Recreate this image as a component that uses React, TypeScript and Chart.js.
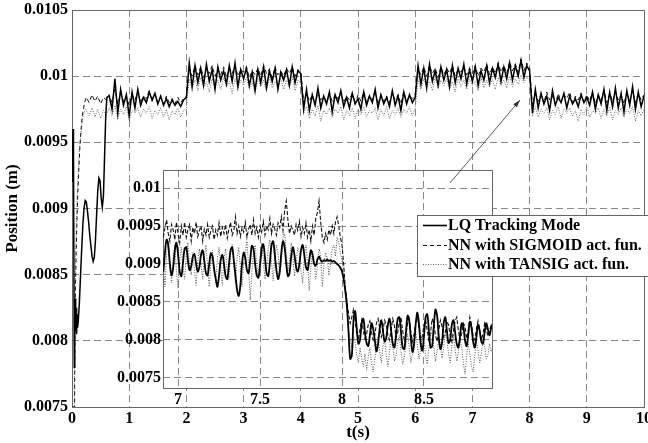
import React, { useEffect, useRef } from "react";
import { Chart, registerables } from "chart.js";
Chart.register(...registerables);

const FONT = '"Liberation Serif", "Times New Roman", serif';

// ---- axes / labels ----
const mainXTicks = [0, 1, 2, 3, 4, 5, 6, 7, 8, 9, 10];
const mainYTicks = [0.0075, 0.008, 0.0085, 0.009, 0.0095, 0.01, 0.0105];
const insetXTicks = [7, 7.5, 8, 8.5];
const insetYTicks = [0.0075, 0.008, 0.0085, 0.009, 0.0095, 0.01];
const seriesNames = ["LQ Tracking Mode", "NN with SIGMOID act. fun.", "NN with TANSIG act. fun."];
const xTitle = "t(s)";
const yTitle = "Position (m)";

// ---- main plot: start-up transients (time, value) ----
const lqT0 = [0, 0.018, 0.026, 0.04, 0.048, 0.056, 0.064, 0.072, 0.08, 0.088, 0.098, 0.11, 0.13, 0.15, 0.17, 0.19, 0.21, 0.23, 0.25, 0.27, 0.29, 0.31, 0.33, 0.35, 0.37, 0.39, 0.41, 0.43, 0.45, 0.47, 0.49, 0.51, 0.53, 0.55, 0.57, 0.59, 0.61];
const lqY0 = [0.0092, 0.0096, 0.0094, 0.0078, 0.0083, 0.00832, 0.00808, 0.00825, 0.00805, 0.0082, 0.0081, 0.00815, 0.0083, 0.0085, 0.0087, 0.00888, 0.009, 0.00906, 0.00905, 0.00898, 0.0089, 0.0088, 0.00872, 0.00864, 0.0086, 0.00863, 0.00876, 0.00895, 0.00913, 0.00923, 0.00921, 0.00908, 0.00901, 0.0091, 0.0094, 0.0097, 0.00984];
const sigT0 = [0, 0.045, 0.05, 0.06, 0.08, 0.1, 0.12, 0.14, 0.16, 0.18, 0.2, 0.22, 0.25, 0.3, 0.35, 0.4, 0.45, 0.5, 0.55, 0.6];
const sigY0 = [0.0075, 0.0075, 0.008, 0.0084, 0.0088, 0.0091, 0.0093, 0.00948, 0.0096, 0.0097, 0.00975, 0.0098, 0.00984, 0.0098, 0.00986, 0.00981, 0.00985, 0.00979, 0.00984, 0.00982];
const tanT0 = [0, 0.04, 0.045, 0.055, 0.07, 0.09, 0.11, 0.13, 0.15, 0.17, 0.19, 0.21, 0.24, 0.3, 0.35, 0.4, 0.45, 0.5, 0.55, 0.6];
const tanY0 = [0.0075, 0.0075, 0.008, 0.0084, 0.0088, 0.0091, 0.0093, 0.00945, 0.00955, 0.00963, 0.00968, 0.00972, 0.00975, 0.0097, 0.00976, 0.00969, 0.00975, 0.00968, 0.00974, 0.00971];

// ---- main plot: steady part, sampled from 0.65 s every 0.05 s ----
const steadyStart = 0.65;
const steadyStep = 0.05;
const lqSteady = [
  0.00985, 0.00975, 0.00998, 0.00972, 0.0099, 0.00978, 0.00986, 0.0097, 0.00988, 0.00976,
  0.0099, 0.00978, 0.00984, 0.0098, 0.00988, 0.00982, 0.00987, 0.00979, 0.00985, 0.00978,
  0.00983, 0.00977, 0.00982, 0.00978, 0.00981, 0.00977, 0.00982,
  0.00984,
  0.0101, 0.00992, 0.01008, 0.00995, 0.01006, 0.00993, 0.01009, 0.00996, 0.01005, 0.0099,
  0.01007, 0.00997, 0.01004, 0.00994, 0.01008, 0.00996, 0.0101, 0.00992, 0.01005, 0.00998,
  0.01006, 0.00993, 0.01003, 0.00989, 0.01005, 0.00995, 0.01007, 0.00991, 0.01004, 0.00996,
  0.01006, 0.0099, 0.01003, 0.00997, 0.01005, 0.00993, 0.01007, 0.00995, 0.01004,
  0.01002,
  0.00975, 0.0099, 0.00974, 0.00986, 0.00978, 0.00991, 0.00976, 0.00985, 0.00979, 0.00988,
  0.00973, 0.00986, 0.0098, 0.00989, 0.00977, 0.00984, 0.00976, 0.00987, 0.00979, 0.00983,
  0.00975, 0.00988, 0.00978, 0.00985, 0.0098, 0.0099, 0.00976, 0.00986, 0.00979, 0.00984,
  0.00977, 0.00989, 0.00978, 0.00985, 0.00974, 0.00988, 0.00979, 0.00986, 0.0098,
  0.00984,
  0.01008, 0.00994, 0.01006, 0.00991, 0.01009, 0.00996, 0.01004, 0.00993, 0.01007, 0.00997,
  0.01005, 0.00992, 0.01008, 0.00995, 0.01006, 0.00998, 0.01009, 0.00994, 0.01005, 0.00996,
  0.01007, 0.00993, 0.01004, 0.00997, 0.01008, 0.00995, 0.01006, 0.00999, 0.01009, 0.00996,
  0.01007, 0.00998, 0.0101, 0.00997, 0.01008, 0.01, 0.01012, 0.00999, 0.01008,
  0.01004,
  0.00972, 0.0099, 0.00976, 0.00987, 0.00979, 0.00985, 0.00974, 0.00989, 0.00978, 0.00984,
  0.0098, 0.00987, 0.00976, 0.00985, 0.00979, 0.00983, 0.00977, 0.00986, 0.0098, 0.00984,
  0.00978, 0.00988, 0.00975, 0.00986, 0.00979, 0.0099, 0.00974, 0.00988, 0.00977, 0.00991,
  0.00976, 0.00987, 0.00973, 0.00989, 0.00978, 0.00992, 0.00975, 0.00988, 0.00977, 0.00985,
];
const sigSteady = [
  0.00986, 0.0098, 0.0099, 0.00979, 0.00987, 0.00981, 0.00985, 0.00978, 0.00986, 0.00982,
  0.00988, 0.0098, 0.00985, 0.00983, 0.00989, 0.00981, 0.00986, 0.0098, 0.00984, 0.00979,
  0.00985, 0.0098, 0.00983, 0.00979, 0.00984, 0.0098, 0.00983,
  0.00985,
  0.01006, 0.01, 0.01008, 0.01001, 0.01007, 0.00999, 0.01006, 0.01002, 0.01008, 0.01,
  0.01005, 0.01001, 0.01007, 0.00999, 0.01006, 0.01002, 0.01008, 0.01, 0.01005, 0.01003,
  0.01007, 0.00999, 0.01004, 0.01001, 0.01006, 0.01, 0.01008, 0.01002, 0.01005, 0.00999,
  0.01007, 0.01001, 0.01004, 0.01, 0.01006, 0.01002, 0.01007, 0.01, 0.01005,
  0.01003,
  0.0098, 0.00987, 0.00981, 0.00986, 0.00979, 0.00988, 0.00982, 0.00985, 0.0098, 0.00987,
  0.00981, 0.00986, 0.00983, 0.00988, 0.0098, 0.00985, 0.00982, 0.00987, 0.00979, 0.00986,
  0.00981, 0.00988, 0.0098, 0.00985, 0.00982, 0.00987, 0.00979, 0.00986, 0.00981, 0.00985,
  0.0098, 0.00987, 0.00982, 0.00986, 0.00979, 0.00988, 0.00981, 0.00985, 0.00983,
  0.00986,
  0.01005, 0.01001, 0.01007, 0.01, 0.01008, 0.01002, 0.01006, 0.00999, 0.01007, 0.01001,
  0.01006, 0.01002, 0.01008, 0.01, 0.01005, 0.01003, 0.01007, 0.01001, 0.01006, 0.01002,
  0.01008, 0.01, 0.01006, 0.01003, 0.01009, 0.01001, 0.01007, 0.01002, 0.0101, 0.01003,
  0.01008, 0.01002, 0.01011, 0.01004, 0.01009, 0.01003, 0.01013, 0.01004, 0.0101,
  0.01006,
  0.00978, 0.00987, 0.00981, 0.00986, 0.0098, 0.00988, 0.00982, 0.00985, 0.00979, 0.00987,
  0.00981, 0.00986, 0.00983, 0.00988, 0.0098, 0.00985, 0.00982, 0.00987, 0.0098, 0.00986,
  0.00981, 0.00988, 0.00979, 0.00986, 0.00982, 0.00989, 0.0098, 0.00987, 0.00981, 0.00988,
  0.00982, 0.00986, 0.00979, 0.00988, 0.00981, 0.00989, 0.0098, 0.00987, 0.00982, 0.00986,
];
const tanSteady = [
  0.00976, 0.0097, 0.00978, 0.00968, 0.00975, 0.00971, 0.00977, 0.00967, 0.00974, 0.00972,
  0.00976, 0.00969, 0.00975, 0.00972, 0.00977, 0.00968, 0.00974, 0.00971, 0.00976, 0.00969,
  0.00975, 0.00967, 0.00974, 0.00971, 0.00976, 0.00969, 0.00974,
  0.00976,
  0.00998, 0.00991, 0.00997, 0.00989, 0.00999, 0.00992, 0.00996, 0.00988, 0.00998, 0.00993,
  0.00997, 0.0099, 0.00999, 0.00992, 0.00996, 0.00987, 0.00998, 0.00991, 0.00997, 0.00993,
  0.00999, 0.0099, 0.00996, 0.00988, 0.00998, 0.00992, 0.00997, 0.00989, 0.00999, 0.00991,
  0.00996, 0.00993, 0.00998, 0.0099, 0.00997, 0.00992, 0.00999, 0.00989, 0.00997,
  0.00995,
  0.00972, 0.00977, 0.00968, 0.00975, 0.0097, 0.00978, 0.00966, 0.00974, 0.00971, 0.00976,
  0.00969, 0.00975, 0.00972, 0.00977, 0.00967, 0.00974, 0.0097, 0.00976, 0.00968, 0.00975,
  0.00971, 0.00977, 0.00969, 0.00974, 0.00972, 0.00976, 0.00967, 0.00975, 0.0097, 0.00977,
  0.00968, 0.00974, 0.00971, 0.00976, 0.00969, 0.00975, 0.00972, 0.00977, 0.0097,
  0.00976,
  0.00997, 0.0099, 0.00998, 0.00992, 0.00996, 0.00989, 0.00999, 0.00991, 0.00997, 0.00993,
  0.00998, 0.0099, 0.00996, 0.00988, 0.00999, 0.00992, 0.00997, 0.0099, 0.00998, 0.00993,
  0.00996, 0.00989, 0.00999, 0.00991, 0.00997, 0.00992, 0.00998, 0.0099, 0.00999, 0.00993,
  0.00997, 0.00991, 0.01, 0.00992, 0.00998, 0.00994, 0.01001, 0.00995, 0.00999,
  0.00997,
  0.0097, 0.00977, 0.00969, 0.00975, 0.00972, 0.00976, 0.00967, 0.00974, 0.00971, 0.00977,
  0.00968, 0.00975, 0.00972, 0.00976, 0.0097, 0.00974, 0.00966, 0.00975, 0.00971, 0.00977,
  0.00969, 0.00974, 0.00972, 0.00976, 0.00968, 0.00975, 0.0097, 0.00977, 0.00967, 0.00974,
  0.00971, 0.00976, 0.00969, 0.00975, 0.00972, 0.00977, 0.00966, 0.00974, 0.0097, 0.00975,
];

// ---- inset: zoom around t = 8 s, sampled from 6.91 s every 0.01 s ----
const insetStart = 6.91;
const insetStep = 0.01;
const lqInset = [
  0.0089, 0.00915, 0.00932, 0.00925, 0.009, 0.00885, 0.00895, 0.00918, 0.00928, 0.00912,
  0.0089, 0.00884, 0.00902, 0.0092, 0.00922, 0.00905, 0.00892, 0.00897, 0.0091, 0.00913,
  0.009, 0.0089, 0.00896, 0.00912, 0.00918, 0.00904, 0.00888, 0.00885, 0.009, 0.00914,
  0.0091, 0.00893, 0.0088, 0.0087, 0.00885, 0.00905, 0.00912, 0.009, 0.00884, 0.0088,
  0.00898, 0.00918, 0.00922, 0.00905, 0.00885, 0.00866, 0.00858, 0.00872, 0.009, 0.00915,
  0.00908, 0.00892, 0.00888, 0.00905, 0.00924, 0.0092, 0.009, 0.00885, 0.00882, 0.00898,
  0.0092, 0.00926, 0.00908, 0.00888, 0.00884, 0.00902, 0.00925, 0.0093, 0.00912, 0.00892,
  0.0088, 0.0089, 0.00915, 0.0093, 0.00922, 0.009, 0.00884, 0.00888, 0.0091, 0.00922,
  0.00912, 0.00896, 0.0089, 0.009, 0.00918, 0.00925, 0.00912, 0.00896, 0.00892, 0.00905,
  0.00918, 0.00912, 0.009, 0.00898, 0.00906, 0.0091, 0.00905, 0.00903, 0.00905, 0.00904,
  0.00906, 0.00904, 0.00905, 0.00903, 0.00904, 0.00902, 0.009, 0.00898, 0.00895,
  0.0089, 0.0088, 0.00865, 0.00845, 0.0081, 0.00775, 0.0078, 0.00825, 0.00838, 0.00815,
  0.00795, 0.008, 0.00822, 0.00828, 0.0081, 0.00796, 0.00792, 0.00806, 0.00822, 0.00815,
  0.008, 0.00785, 0.00795, 0.00815, 0.00826, 0.00812, 0.00798, 0.00803, 0.0082, 0.00828,
  0.00812, 0.00795, 0.0079, 0.00808, 0.00828, 0.0083, 0.0081, 0.0079, 0.00788, 0.0081,
  0.00832, 0.00826, 0.00802, 0.00784, 0.00795, 0.00822, 0.00836, 0.0082, 0.00795, 0.00786,
  0.00805, 0.0083, 0.00834, 0.00812, 0.0079, 0.00792, 0.00818, 0.0084, 0.00832, 0.00805,
  0.00788, 0.00796, 0.00822, 0.0083, 0.00812, 0.00796, 0.008, 0.0082, 0.00826, 0.0081,
  0.00795, 0.0079, 0.00805, 0.00822, 0.00818, 0.008, 0.00792, 0.00806, 0.00824, 0.00816,
  0.00798, 0.0079, 0.00804, 0.0082, 0.00812, 0.00798, 0.00795, 0.0081, 0.00822, 0.00814,
  0.00806, 0.00816, 0.00822,
];
const sigInset = [
  0.00935, 0.00948, 0.00958, 0.0094, 0.0093, 0.00952, 0.00945, 0.00932, 0.00955, 0.0094,
  0.00928, 0.0095, 0.00938, 0.00955, 0.00935, 0.00945, 0.00952, 0.0093, 0.00948, 0.0094,
  0.00955, 0.00936, 0.00944, 0.0095, 0.0093, 0.00946, 0.00938, 0.00952, 0.00935, 0.00944,
  0.0095, 0.00932, 0.00945, 0.00938, 0.00954, 0.00936, 0.00948, 0.0094, 0.00952, 0.00934,
  0.00946, 0.00955, 0.00938, 0.00944, 0.00962, 0.0094, 0.0095, 0.00936, 0.00948, 0.00942,
  0.00955, 0.00935, 0.00946, 0.00952, 0.00938, 0.00958, 0.0094, 0.00948, 0.00935, 0.0095,
  0.00942, 0.00956, 0.00938, 0.0095, 0.00945, 0.0096, 0.0094, 0.00952, 0.00946, 0.00938,
  0.00954, 0.00948, 0.00962, 0.00944, 0.0097, 0.00983, 0.00958, 0.0094, 0.0095, 0.00945,
  0.00938, 0.00952, 0.00944, 0.00956, 0.00936, 0.00948, 0.0094, 0.00954, 0.00935, 0.00945,
  0.0093, 0.0095, 0.00938, 0.0096, 0.00968, 0.00983, 0.00955, 0.00935, 0.00928, 0.0094,
  0.00932, 0.00945, 0.00938, 0.0095, 0.0094, 0.00955, 0.00962, 0.0095, 0.00935,
  0.00925, 0.009, 0.0087, 0.0085, 0.00835, 0.00822, 0.0083, 0.0084, 0.00826, 0.00808,
  0.008, 0.00815, 0.00826, 0.00812, 0.00802, 0.00808, 0.0082, 0.00825, 0.0081, 0.008,
  0.00806, 0.00822, 0.00828, 0.00815, 0.00804, 0.00812, 0.00826, 0.0082, 0.00806, 0.008,
  0.00814, 0.00828, 0.00818, 0.00803, 0.0081, 0.00825, 0.0083, 0.00812, 0.008, 0.00806,
  0.00822, 0.00828, 0.0081, 0.00798, 0.00808, 0.00824, 0.00832, 0.00815, 0.008, 0.00805,
  0.0082, 0.00826, 0.00812, 0.008, 0.0081, 0.00828, 0.00822, 0.00806, 0.00798, 0.00812,
  0.00826, 0.00818, 0.00804, 0.0081, 0.00824, 0.0082, 0.00805, 0.00798, 0.00812, 0.00825,
  0.0083, 0.00812, 0.008, 0.00808, 0.00822, 0.00818, 0.00802, 0.00812, 0.0083, 0.0082,
  0.00805, 0.008, 0.00815, 0.00825, 0.00812, 0.008, 0.00808, 0.00822, 0.00815, 0.00805,
  0.00812, 0.0082, 0.00815,
];
const tanInset = [
  0.009, 0.0087, 0.00915, 0.0093, 0.00895, 0.00875, 0.0091, 0.00925, 0.0089, 0.00868,
  0.00905, 0.00922, 0.00895, 0.0088, 0.00912, 0.00928, 0.009, 0.00885, 0.00915, 0.00892,
  0.00872, 0.00905, 0.0092, 0.00898, 0.0088, 0.0091, 0.00925, 0.00895, 0.0087, 0.00902,
  0.00918, 0.0089, 0.00878, 0.00908, 0.00922, 0.00896, 0.00872, 0.00905, 0.0092, 0.00888,
  0.0088, 0.00912, 0.00926, 0.009, 0.00876, 0.00908, 0.00922, 0.00894, 0.0087, 0.009,
  0.00915, 0.0093, 0.00898, 0.00852, 0.0089, 0.00918, 0.00925, 0.009, 0.00882, 0.0091,
  0.00928, 0.00905, 0.0088, 0.00896, 0.0092, 0.00932, 0.00902, 0.00878, 0.00908, 0.00925,
  0.00912, 0.00885, 0.00902, 0.00935, 0.0094, 0.00915, 0.0089, 0.00905, 0.00928, 0.0091,
  0.00884, 0.009, 0.00922, 0.00915, 0.0089, 0.00875, 0.00908, 0.00925, 0.009, 0.00865,
  0.00895, 0.00918, 0.00905, 0.0088, 0.00898, 0.0092, 0.00912, 0.0087, 0.009, 0.00915,
  0.00908, 0.00885, 0.009, 0.0092, 0.00925, 0.0091, 0.00935, 0.00928, 0.00915,
  0.00905, 0.0089, 0.0086, 0.00835, 0.00815, 0.008, 0.0079, 0.00805, 0.00798, 0.0078,
  0.0077, 0.0079, 0.00775, 0.00765, 0.00782, 0.0076, 0.00778, 0.0079, 0.0077, 0.00758,
  0.00775, 0.00795, 0.00805, 0.00785, 0.0077, 0.00792, 0.008, 0.0078, 0.00765, 0.00785,
  0.00802, 0.0079, 0.00772, 0.0078, 0.00798, 0.00806, 0.00785, 0.00768, 0.00778, 0.00795,
  0.00808, 0.0079, 0.0077, 0.00782, 0.008, 0.0081, 0.00792, 0.00775, 0.00788, 0.00805,
  0.00798, 0.0078, 0.00768, 0.0079, 0.00805, 0.00812, 0.0079, 0.00772, 0.00785, 0.00802,
  0.00795, 0.00776, 0.0079, 0.00808, 0.008, 0.00782, 0.0077, 0.00792, 0.00806, 0.00788,
  0.00772, 0.00785, 0.008, 0.0079, 0.0077, 0.00755, 0.00778, 0.00796, 0.00782, 0.00765,
  0.00758, 0.0078, 0.00798, 0.00786, 0.0077, 0.00782, 0.008, 0.00792, 0.00775, 0.0078,
  0.00795, 0.00785, 0.0079,
];

const pairs = (ts: number[], ys: number[]) => ts.map((t, i) => ({ x: t, y: ys[i] }));
const sampled = (start: number, step: number, ys: number[]) =>
  ys.map((y, i) => ({ x: Math.round((start + step * i) * 1000) / 1000, y }));

const LQ_STYLE = { borderColor: "#000", borderWidth: 1.5, borderDash: [] as number[] };
const SIG_STYLE = { borderColor: "#111", borderWidth: 1, borderDash: [4, 3] };
const TAN_STYLE = { borderColor: "#666", borderWidth: 1, borderDash: [1, 1.5] };

const tickFont = { family: FONT, size: 16, weight: "bold" as const };
const titleFont = { family: FONT, size: 17, weight: "bold" as const };

function fixTicks(values: number[]) {
  return (scale: any) => {
    scale.ticks = values.map((v) => ({ value: v }));
  };
}

const mainDeco = {
  id: "mainDeco",
  beforeDatasetsDraw(chart: any) {
    const { ctx, chartArea: a } = chart;
    ctx.save();
    ctx.strokeStyle = "#666";
    ctx.lineWidth = 1;
    ctx.setLineDash([]);
    ctx.strokeRect(a.left + 0.5, a.top + 0.5, a.right - a.left, a.bottom - a.top);
    ctx.restore();
  },
};

const insetDeco = {
  id: "insetDeco",
  beforeDraw(chart: any) {
    const { ctx, chartArea: a } = chart;
    ctx.save();
    ctx.fillStyle = "#fff";
    ctx.fillRect(a.left, a.top, a.right - a.left, a.bottom - a.top);
    ctx.restore();
  },
  beforeDatasetsDraw(chart: any) {
    const { ctx, chartArea: a } = chart;
    ctx.save();
    ctx.strokeStyle = "#666";
    ctx.lineWidth = 1;
    ctx.setLineDash([]);
    ctx.strokeRect(a.left + 0.5, a.top + 0.5, a.right - a.left, a.bottom - a.top);
    ctx.restore();
  },
  afterDraw(chart: any) {
    const { ctx } = chart;
    ctx.save();
    // arrow pointing at the t = 8 s transition
    const x1 = 450, y1 = 183, x2 = 520, y2 = 100;
    ctx.strokeStyle = "#333";
    ctx.fillStyle = "#333";
    ctx.lineWidth = 0.8;
    ctx.setLineDash([]);
    ctx.beginPath();
    ctx.moveTo(x1, y1);
    ctx.lineTo(x2, y2);
    ctx.stroke();
    const ang = Math.atan2(y2 - y1, x2 - x1);
    ctx.beginPath();
    ctx.moveTo(x2, y2);
    ctx.lineTo(x2 - 8 * Math.cos(ang - 0.3), y2 - 8 * Math.sin(ang - 0.3));
    ctx.lineTo(x2 - 8 * Math.cos(ang + 0.3), y2 - 8 * Math.sin(ang + 0.3));
    ctx.closePath();
    ctx.fill();

    // legend
    const lx = 417, ly = 215, lw = 240, lh = 61;
    ctx.fillStyle = "#fff";
    ctx.fillRect(lx, ly, lw, lh);
    ctx.strokeStyle = "#666";
    ctx.lineWidth = 1;
    ctx.strokeRect(lx + 0.5, ly + 0.5, lw, lh);
    const styles = [LQ_STYLE, SIG_STYLE, TAN_STYLE];
    const rows = [225, 245, 264];
    ctx.font = `bold 16px ${FONT}`;
    ctx.textBaseline = "middle";
    ctx.textAlign = "left";
    seriesNames.forEach((name, i) => {
      const s = styles[i];
      ctx.strokeStyle = s.borderColor;
      ctx.lineWidth = i === 0 ? 1.6 : 1;
      ctx.setLineDash(s.borderDash);
      ctx.beginPath();
      ctx.moveTo(423, rows[i] + 0.5);
      ctx.lineTo(447, rows[i] + 0.5);
      ctx.stroke();
      ctx.setLineDash([]);
      ctx.fillStyle = "#000";
      ctx.fillText(name, 448, rows[i] + 1);
    });
    ctx.restore();
  },
};

export default function App() {
  const mainRef = useRef<HTMLCanvasElement>(null);
  const insetRef = useRef<HTMLCanvasElement>(null);

  useEffect(() => {
    const lqData = pairs(lqT0, lqY0).concat(sampled(steadyStart, steadyStep, lqSteady));
    const sigData = pairs(sigT0, sigY0).concat(sampled(steadyStart, steadyStep, sigSteady));
    const tanData = pairs(tanT0, tanY0).concat(sampled(steadyStart, steadyStep, tanSteady));

    const gridMain = { color: "#8a8a8a", lineWidth: 1, drawTicks: false };
    const borderDash = { display: false, dash: [7, 4] };

    const main = new Chart(mainRef.current!, {
      type: "line",
      data: {
        datasets: [
          { label: seriesNames[0], data: lqData, ...LQ_STYLE, pointRadius: 0, tension: 0 },
          { label: seriesNames[1], data: sigData, ...SIG_STYLE, pointRadius: 0, tension: 0 },
          { label: seriesNames[2], data: tanData, ...TAN_STYLE, pointRadius: 0, tension: 0 },
        ],
      },
      options: {
        animation: false,
        responsive: false,
        devicePixelRatio: 1,
        events: [],
        layout: { padding: { top: 10, right: 4, left: 0, bottom: 0 } },
        plugins: { legend: { display: false }, tooltip: { enabled: false } },
        scales: {
          x: {
            type: "linear",
            min: 0,
            max: 10,
            afterBuildTicks: fixTicks(mainXTicks),
            afterFit: (s: any) => {
              s.height = 36;
              s.paddingLeft = 0;
              s.paddingRight = 0;
            },
            grid: gridMain,
            border: borderDash,
            ticks: {
              font: tickFont,
              color: "#000",
              padding: 2,
              autoSkip: false,
              maxRotation: 0,
              callback: (v: any) => String(v),
            },
            title: {
              display: true,
              text: xTitle,
              font: titleFont,
              color: "#000",
              padding: { top: 0, bottom: 0 },
            },
          },
          y: {
            type: "linear",
            min: 0.0075,
            max: 0.0105,
            afterBuildTicks: fixTicks(mainYTicks),
            afterFit: (s: any) => {
              s.width = 72;
              s.paddingTop = 0;
              s.paddingBottom = 0;
            },
            grid: gridMain,
            border: borderDash,
            ticks: {
              font: tickFont,
              color: "#000",
              padding: 4,
              autoSkip: false,
              callback: (v: any) => String(v),
            },
            title: {
              display: true,
              text: yTitle,
              font: titleFont,
              color: "#000",
              padding: { top: 2, bottom: 0 },
            },
          },
        },
      },
      plugins: [mainDeco],
    });

    const lqI = sampled(insetStart, insetStep, lqInset);
    const sigI = sampled(insetStart, insetStep, sigInset);
    const tanI = sampled(insetStart, insetStep, tanInset);

    const inset = new Chart(insetRef.current!, {
      type: "line",
      data: {
        datasets: [
          { label: seriesNames[0], data: lqI, borderColor: "#000", borderWidth: 1.8, pointRadius: 0, tension: 0.35 },
          { label: seriesNames[1], data: sigI, borderColor: "#111", borderWidth: 1.1, borderDash: [4, 2], pointRadius: 0, tension: 0 },
          { label: seriesNames[2], data: tanI, borderColor: "#555", borderWidth: 1, borderDash: [1, 1.5], pointRadius: 0, tension: 0 },
        ],
      },
      options: {
        animation: false,
        responsive: false,
        devicePixelRatio: 1,
        events: [],
        layout: { padding: { top: 170, right: 156, left: 103, bottom: 35 } },
        plugins: { legend: { display: false }, tooltip: { enabled: false } },
        scales: {
          x: {
            type: "linear",
            min: 6.908,
            max: 8.915,
            afterBuildTicks: fixTicks(insetXTicks),
            afterFit: (s: any) => {
              s.height = 20;
              s.paddingLeft = 0;
              s.paddingRight = 0;
            },
            grid: gridMain,
            border: borderDash,
            ticks: {
              font: tickFont,
              color: "#000",
              padding: 2,
              autoSkip: false,
              maxRotation: 0,
              callback: (v: any) => String(v),
            },
          },
          y: {
            type: "linear",
            min: 0.007368,
            max: 0.010237,
            afterBuildTicks: fixTicks(insetYTicks),
            afterFit: (s: any) => {
              s.width = 60;
              s.paddingTop = 0;
              s.paddingBottom = 0;
            },
            grid: gridMain,
            border: borderDash,
            ticks: {
              font: tickFont,
              color: "#000",
              padding: 2,
              autoSkip: false,
              callback: (v: any) => String(v),
            },
          },
        },
      },
      plugins: [insetDeco],
    });

    return () => {
      main.destroy();
      inset.destroy();
    };
  }, []);

  return (
    <div style={{ position: "fixed", left: 0, top: 0, width: 648, height: 443, background: "#fff" }}>
      <canvas ref={mainRef} width={648} height={443} style={{ position: "absolute", left: 0, top: 0 }} />
      <canvas ref={insetRef} width={648} height={443} style={{ position: "absolute", left: 0, top: 0 }} />
    </div>
  );
}
